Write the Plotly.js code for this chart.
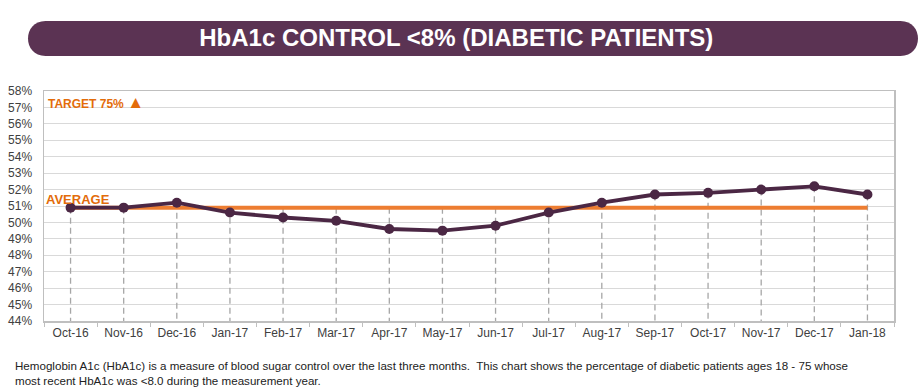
<!DOCTYPE html>
<html>
<head>
<meta charset="utf-8">
<script src="https://cdn.plot.ly/plotly-3.0.1.min.js"></script>
<style>
html,body{margin:0;padding:0;background:#fff;}
#chart{width:920px;height:387px;}
</style>
</head>
<body>
<div id="chart"></div>
<script>
var months = ["Oct-16","Nov-16","Dec-16","Jan-17","Feb-17","Mar-17","Apr-17","May-17","Jun-17","Jul-17","Aug-17","Sep-17","Oct-17","Nov-17","Dec-17","Jan-18"];
var rates = [50.9,50.9,51.2,50.6,50.3,50.1,49.6,49.5,49.8,50.6,51.2,51.7,51.8,52.0,52.2,51.7];
var averageRate = 50.9;
var yTickVals = [44,45,46,47,48,49,50,51,52,53,54,55,56,57,58];
var yTickText = ["44%","45%","46%","47%","48%","49%","50%","51%","52%","53%","54%","55%","56%","57%","58%"];
var titleText = "HbA1c CONTROL &lt;8% (DIABETIC PATIENTS)";
var targetText = "TARGET 75% <span style='font-size:17px'>▲</span>";
var averageText = "AVERAGE";
var footnote = "Hemoglobin A1c (HbA1c) is a measure of blood sugar control over the last three months.  This chart shows the percentage of diabetic patients ages 18 - 75 whose<br>most recent HbA1c was &lt;8.0 during the measurement year.";

var yMin = yTickVals[0], yMax = yTickVals[yTickVals.length-1];

// drop lines from the highest series value at each category down to the axis floor
var dropX = [], dropY = [];
months.forEach(function(m,i){
  dropX.push(m,m,null);
  dropY.push(Math.max(rates[i],averageRate), yMin, null);
});

var purple = "#4b2744";
var orange = "#ed7d31";

var traces = [
  {x: dropX, y: dropY, mode: "lines", type: "scatter", hoverinfo: "skip",
   line: {color: "#a6a6a6", width: 1.3, dash: "6px,4px"}, showlegend: false},
  {x: months, y: months.map(function(){return averageRate;}), mode: "lines", type: "scatter",
   line: {color: orange, width: 4}, showlegend: false},
  {x: months, y: rates, mode: "lines+markers", type: "scatter",
   line: {color: purple, width: 3.8},
   marker: {color: purple, size: 10, symbol: "circle"}, showlegend: false}
];

// banner: rounded pill in pixel units, anchored to top-left of plot area
var bx0 = -16, bx1 = 874, by0 = 35, by1 = 70, r = (by1-by0)/2, k = r*4/3;
var pill = "M " + (bx0+r) + "," + by0 + " L " + (bx1-r) + "," + by0 +
  " C " + (bx1-r+k) + "," + by0 + " " + (bx1-r+k) + "," + by1 + " " + (bx1-r) + "," + by1 +
  " L " + (bx0+r) + "," + by1 +
  " C " + (bx0+r-k) + "," + by1 + " " + (bx0+r-k) + "," + by0 + " " + (bx0+r) + "," + by0 + " Z";

var layout = {
  width: 920, height: 387,
  margin: {l: 44, r: 26, t: 91, b: 66},
  paper_bgcolor: "#fff", plot_bgcolor: "#fff",
  font: {family: "Liberation Sans, Arial, sans-serif", color: "#404040", size: 12},
  title: {text: titleText, x: 0.496, xref: "container", xanchor: "center",
          y: 1 - 38/387, yref: "container", yanchor: "middle",
          font: {family: "Liberation Sans, Arial, sans-serif", size: 24, color: "#ffffff", weight: "bold"}},
  xaxis: {type: "category", range: [-0.5, months.length-0.5], showgrid: false,
          tickson: "boundaries", ticks: "outside", ticklen: 4, tickcolor: "#bfbfbf",
          showline: true, linecolor: "#bfbfbf", linewidth: 1.5, mirror: true,
          tickfont: {size: 12, color: "#404040"}, fixedrange: true, zeroline: false},
  yaxis: {range: [yMin, yMax], tickvals: yTickVals, ticktext: yTickText,
          showgrid: true, gridcolor: "#d9d9d9", gridwidth: 1,
          showline: true, linecolor: "#bfbfbf", linewidth: 1.5, mirror: true,
          ticks: "", ticklabelstandoff: 8,
          tickfont: {size: 12, color: "#404040"}, zeroline: false, fixedrange: true},
  shapes: [
    {type: "path", xref: "paper", yref: "paper", xsizemode: "pixel", ysizemode: "pixel",
     xanchor: 0, yanchor: 1, path: pill, fillcolor: "#5b3353", line: {width: 0}, layer: "below"}
  ],
  annotations: [
    {text: targetText, xref: "paper", yref: "paper", x: 0, y: 1, xanchor: "left", yanchor: "top",
     xshift: 2, yshift: 0, showarrow: false,
     font: {size: 12, color: "#e36c0a", weight: "bold"}},
    {text: averageText, xref: "paper", yref: "y", x: 0, y: averageRate, xanchor: "left", yanchor: "bottom",
     xshift: 0, yshift: -1, showarrow: false,
     font: {size: 13, color: "#e36c0a", weight: "bold"}},
    {text: footnote, xref: "paper", yref: "paper", x: -44/850, y: -36/230, xanchor: "left", yanchor: "top",
     xshift: 13, align: "left", showarrow: false,
     font: {size: 11.6, color: "#222222"}}
  ]
};

Plotly.newPlot("chart", traces, layout, {displayModeBar: false, staticPlot: true});
</script>
</body>
</html>
